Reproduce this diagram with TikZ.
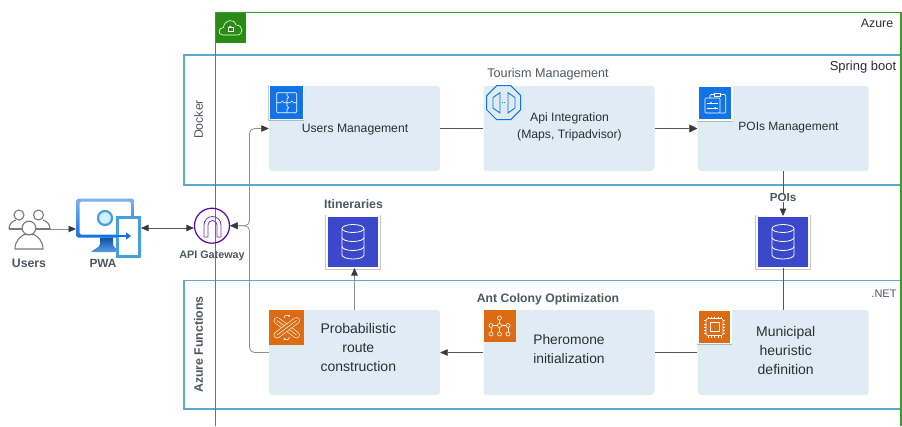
\documentclass[tikz,border=0pt]{standalone}
\usepackage{fontspec}
\setmainfont{Liberation Sans}
\usetikzlibrary{arrows.meta,shapes.geometric,shadows}
\definecolor{grn}{HTML}{3C9A34}
\definecolor{grnfill}{HTML}{2A8A16}
\definecolor{frameblue}{HTML}{5FA6D3}
\definecolor{boxfill}{HTML}{DFECF4}
\definecolor{txt}{HTML}{2B2F36}
\definecolor{grytxt}{HTML}{50565E}
\definecolor{iconblue}{HTML}{1273E6}
\definecolor{dbblue}{HTML}{3B48CC}
\definecolor{orng}{HTML}{DD6B14}
\definecolor{linegray}{HTML}{555555}
\definecolor{softgray}{HTML}{8F8F8F}
\definecolor{tipgray}{HTML}{3A3A3A}
\tikzset{
  frame/.style={draw=frameblue,line width=1.25pt},
  card/.style={fill=boxfill,rounded corners=3pt,minimum width=171pt,minimum height=85pt,inner sep=0pt},
  cardtext/.style={inner sep=0pt,text=txt,align=center},
  link/.style={draw=linegray,line width=0.7pt},
  softlink/.style={draw=softgray,line width=0.8pt},
  tip/.style={-{Triangle[length=7.5pt,width=6.5pt,color=tipgray]}},
  bigtip/.style={-{Triangle[length=8pt,width=8pt,color=tipgray]}},
  bothtip/.style={{Triangle[length=7.5pt,width=6.5pt,color=tipgray]}-{Triangle[length=7.5pt,width=6.5pt,color=tipgray]}},
  tag/.style={inner sep=0pt,text=grytxt},
  bold/.style={inner sep=0pt,text=grytxt},
  squareicon/.style={minimum size=#1,inner sep=0pt,outer sep=0pt},
  haloicon/.style={draw=white,line width=1.2pt,drop shadow={shadow xshift=0pt,shadow yshift=-0.6pt,shadow scale=1.07,opacity=0.22,fill=black}},
  glyph/.style={draw=white,line width=0.6pt,fill=none},
  person/.style={draw=softgray!85!black,line width=1.1pt},
}
\begin{document}
\begin{tikzpicture}[x=1pt,y=-1pt]
\useasboundingbox (0,0) rectangle (902,426);
% frames
\draw[frame] (184,55) rectangle (901,185);
\draw[frame] (184,280.5) rectangle (901,409);
\draw[draw=grn,line width=1.1pt] (215.5,426) -- (215.5,12.5) -- (901,12.5) -- (901,426);
% Azure icon
\node[squareicon=30pt,fill=grnfill] (azicon) at (230.5,27.5) {};
\draw[glyph] (223,35) .. controls (217.5,35) and (218,27.5) .. (223.5,27.5) .. controls (224,20) and (234,17.5) .. (236,25) .. controls (243.5,25) and (244,35) .. (237,35) -- cycle;
\draw[glyph] (227.8,27.5) rectangle (232.8,31.5);
\draw[glyph] (228.8,27.5) arc[start angle=180,end angle=360,radius=1.5];
% cards
\node[card] (users) at (354.5,128.5) {};
\node[card] (api) at (569,128.5) {};
\node[card] (pois) at (783,128.5) {};
\node[card] (prob) at (354.5,352.5) {};
\node[card] (pher) at (569,352.5) {};
\node[card] (muni) at (783,352.5) {};
\node[cardtext,font=\fontsize{12.2}{15}\selectfont] (userst) at (355,129.5) {Users Management};
\node[cardtext,font=\fontsize{12.2}{16.5}\selectfont] (apit) at (569.5,127) {Api Integration\\(Maps, Tripadvisor)};
\node[cardtext,font=\fontsize{12}{15}\selectfont] (poist) at (788.5,127.5) {POIs Management};
\node[cardtext,font=\fontsize{14}{19}\selectfont] (probt) at (358.3,347) {Probabilistic\\route\\construction};
\node[cardtext,font=\fontsize{13.8}{19}\selectfont] (phert) at (569,349) {Pheromone\\initialization};
\node[cardtext,font=\fontsize{14}{19}\selectfont] (munit) at (785.7,350) {Municipal\\heuristic\\definition};
% labels
\node[cardtext,font=\fontsize{12.4}{14}\selectfont] (azurel) at (877,23) {Azure};
\node[cardtext,font=\fontsize{13}{15}\selectfont] (springl) at (863,67) {Spring boot};
\node[tag,font=\fontsize{12.6}{15}\selectfont] (tourl) at (548,74.5) {Tourism Management};
\node[tag,font=\fontsize{11}{13}\selectfont] (netl) at (884,294) {.NET};
\node[tag,rotate=90,font=\fontsize{12.3}{14}\selectfont] (dockl) at (198.5,119.5) {Docker};
\node[tag,rotate=90,font=\fontsize{12.3}{14}\bfseries\selectfont] (funcl) at (198.5,344.5) {Azure Functions};
\node[bold,font=\fontsize{12.2}{14}\bfseries\selectfont] (antl) at (548,299.5) {Ant Colony Optimization};
\node[bold,font=\fontsize{12.3}{14}\bfseries\selectfont] (itil) at (353.5,204.5) {Itineraries};
\node[bold,font=\fontsize{12.3}{14}\bfseries\selectfont] (usersl) at (29,263) {Users};
\node[bold,font=\fontsize{11.8}{14}\bfseries\selectfont] (pwal) at (103,263) {PWA};
\node[bold,font=\fontsize{10.8}{13}\bfseries\selectfont] (apigl) at (212,256) {API Gateway};
% people
\draw[person] (19,215) circle[radius=5];
\draw[person] (38.5,215) circle[radius=5];
\draw[person] (9,229) .. controls (9,224) and (12,221.5) .. (16,220);
\draw[person] (9,229) -- (50,229);
\draw[person] (50,229) .. controls (50,224) and (47,221.5) .. (43,220);
\draw[person,fill=white] (15,249) .. controls (15,241) and (20,237) .. (24,234.5) -- (34,234.5) .. controls (38,237) and (43,241) .. (43,249) -- cycle;
\draw[person,fill=white] (29,228) circle[radius=6.8];
% PWA icon
\shade[top color=iconblue!55,bottom color=iconblue,rounded corners=1.5pt,even odd rule] (76.5,198.5) rectangle (134,237.5) (79.5,201.5) rectangle (131,234.5);
\shade[top color=iconblue!70!black,bottom color=iconblue!70,even odd rule] (100,237.5) -- (113,237.5) -- (113,244) .. controls (113,248) and (118,249) .. (120,252) -- (91,252) .. controls (93,249) and (100,248) .. (100,244) -- cycle;
\draw[line width=2.2pt,draw=cyan!70!blue!75,fill=cyan!18] (105,218) circle[radius=7];
\draw[line width=2.2pt,draw=cyan!70!blue!75,fill=white] (117.5,217.5) rectangle (139.5,256.5);
\draw[line width=1.5pt,iconblue,-{Triangle[length=5pt,width=7pt]}] (96,236) -- (131,236);
\coordinate (pwaR) at (141,228);
\coordinate (pwaL) at (76,229);
\coordinate (usersR) at (50,229);
% gateway
\node[circle,draw=violet!70!blue,line width=1.2pt,fill=none,minimum size=35pt,inner sep=0pt] (gate) at (212,225.7) {};
\draw[violet!60!blue!80,line width=0.8pt] (204,237) -- (204,225) arc[start angle=180,end angle=360,radius=8.5] -- (221,237) -- (217,237) -- (217,225) arc[start angle=0,end angle=-180,radius=4.5] -- (208,237) -- cycle;
% databases
\node[squareicon=52pt,fill=dbblue,haloicon] (dbit) at (353,242) {};
\node[squareicon=52pt,fill=dbblue,haloicon] (dbpo) at (783,242) {};
\foreach \c in {353,783}{
\begin{scope}[shift={(\c,242)}]
\draw[glyph,line width=0.8pt] (0,-13.5) ellipse[x radius=11,y radius=4];
\draw[glyph,line width=0.8pt] (-11,-13.5) -- (-11,13) arc[start angle=180,end angle=360,x radius=11,y radius=-4] -- (11,-13.5);
\draw[glyph,line width=0.8pt] (-11,-4.5) arc[start angle=180,end angle=360,x radius=11,y radius=-4];
\draw[glyph,line width=0.8pt] (-11,4.5) arc[start angle=180,end angle=360,x radius=11,y radius=-4];
\end{scope}}
% users icon
\node[squareicon=34pt,fill=iconblue,haloicon] (iuser) at (286.3,102.5) {};
\draw[glyph,rounded corners=1pt] (276.7,92.7) rectangle (296.7,112.7);
\draw[glyph] (287,92.7) -- (287,95.5) arc[start angle=-90,end angle=90,radius=1.7] -- (287,102.7) -- (284,102.7) arc[start angle=0,end angle=-180,radius=1.7] -- (276.7,102.7);
\draw[glyph] (287,102.7) -- (290,102.7) arc[start angle=180,end angle=360,radius=1.7] -- (296.7,102.7);
\draw[glyph] (287,102.7) -- (287,106) arc[start angle=-90,end angle=90,radius=1.7] -- (287,112.7);
% api icon octagon
\node[regular polygon,regular polygon sides=8,draw=iconblue,line width=1pt,minimum size=36.8pt,inner sep=0pt] (iapi) at (503.7,102.7) {};
\draw[iconblue,line width=0.9pt] (500,92.7) -- (500,113) -- (493,108) -- (493,97.5) -- cycle;
\draw[iconblue,line width=0.9pt] (508,92.7) -- (508,113) -- (515,108) -- (515,97.5) -- cycle;
\draw[iconblue,line width=0.7pt,dotted] (501.5,102.7) -- (506.5,102.7);
% pois icon
\node[squareicon=34pt,fill=iconblue,haloicon] (ipoi) at (715,103) {};
\draw[glyph,rounded corners=1pt] (710,98) -- (710,94.5) -- (725.7,94.5) -- (725.7,113) -- (720,113);
\draw[glyph,rounded corners=1pt] (705,98) rectangle (720,113);
\draw[glyph,fill=iconblue] (714.3,93) rectangle (720.7,96);
\draw[glyph] (707,103) -- (718,103);
\draw[glyph] (707,108) -- (718,108);
\fill[white] (711,103) circle[radius=1] (715,108) circle[radius=1];
% orange icons
\node[squareicon=35pt,fill=orng] (iprob) at (286.7,327.5) {};
\draw[white,line width=6.6pt,line cap=round] (277,320.5) -- (296.5,335);
\draw[orng,line width=5.4pt,line cap=round] (277,320.5) -- (296.5,335);
\draw[white,line width=0.5pt] (277,320.5) -- (296.5,335);
\draw[white,line width=6.6pt,line cap=round] (296.5,320.5) -- (277,335);
\draw[orng,line width=5.4pt,line cap=round] (296.5,320.5) -- (277,335);
\draw[white,line width=0.5pt] (296.5,320.5) -- (277,335);
\draw[glyph,-{Stealth[length=2pt,width=2.5pt]}] (284,318) arc[start angle=180,end angle=340,radius=2.8];
\draw[glyph,-{Stealth[length=2pt,width=2.5pt]}] (289.5,337) arc[start angle=0,end angle=160,radius=2.8];
\node[squareicon=32pt,fill=orng] (ipher) at (499.6,326) {};
\foreach \p in {(499.5,318),(491,325.5),(499.5,325.5),(508,325.5),(491,334),(499.5,334),(508,334)}
  \draw[glyph] \p circle[radius=2];
\draw[glyph] (499.5,320) -- (499.5,323.5) (493,325.5) -- (497.5,325.5) (501.5,325.5) -- (506,325.5) (491,327.5) -- (491,332) (499.5,327.5) -- (499.5,332) (508,327.5) -- (508,332);
\node[squareicon=33pt,fill=orng,haloicon] (imun) at (714.5,327) {};
\draw[glyph,rounded corners=2pt] (706,318.5) rectangle (723,335.5);
\draw[glyph] (710,322.5) rectangle (719,331.5);
\foreach \k in {0,1,2,3,4}{
\draw[glyph,line width=0.4pt] ({708+\k*3.25},316.5) -- ({708+\k*3.25},318.5) ({708+\k*3.25},335.5) -- ({708+\k*3.25},337.5);
\draw[glyph,line width=0.4pt] (704,{320.5+\k*3.25}) -- (706,{320.5+\k*3.25}) (723,{320.5+\k*3.25}) -- (725,{320.5+\k*3.25});
}
% connectors
\coordinate (j) at (249.5,225.7);
\draw[softlink,tip] (usersR) -- (pwaL);
\draw[link,bothtip] (pwaR) -- (gate.west |- pwaR);
\draw[softlink,bothtip,rounded corners=5pt] (gate.east) -- (j) -- (j |- users.west) -- (users.west);
\draw[softlink,tip,rounded corners=5pt] (prob.west) -- (j |- prob.west) -- (j) -- (gate.east);
\draw[link] (users.east) -- (api.west);
\draw[link,bigtip] (api.east) -- (pois.west);
\node[bold,font=\fontsize{11.6}{14}\bfseries\selectfont] (poil) at (783,198) {POIs};
\draw[link] (pois.south) -- (poil.north);
\draw[link,tip] (poil.south) -- (dbpo.north);
\draw[link] (dbpo.south) -- (muni.north);
\draw[link] (muni.west) -- (pher.east);
\draw[link,tip] (pher.west) -- (prob.east);
\draw[softlink,tip] (prob.north) -- (prob.north |- dbit.south);
\end{tikzpicture}
\end{document}
